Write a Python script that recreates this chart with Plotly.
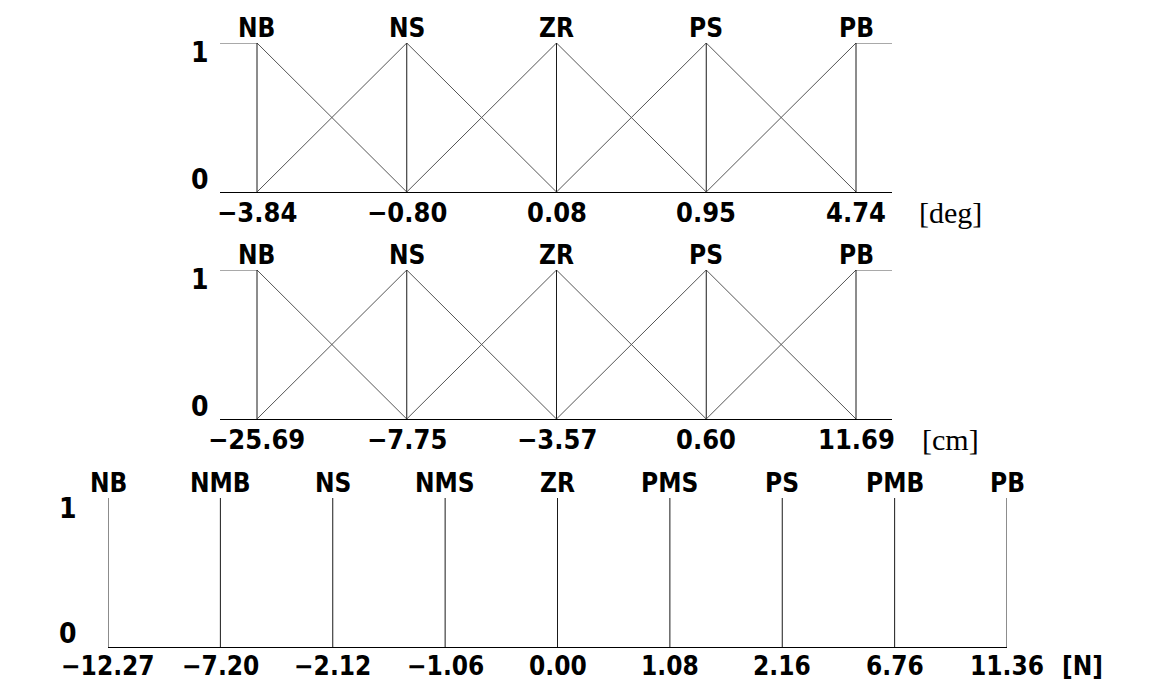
import plotly.graph_objects as go

# membership function labels
terms5 = ["NB", "NS", "ZR", "PS", "PB"]
terms9 = ["NB", "NMB", "NS", "NMS", "ZR", "PMS", "PS", "PMB", "PB"]

# breakpoints of each fuzzy set
angle_points = [-3.84, -0.80, 0.08, 0.95, 4.74]        # [deg]
position_points = [-25.69, -7.75, -3.57, 0.60, 11.69]  # [cm]
force_points = [-12.27, -7.20, -2.12, -1.06, 0.00, 1.08, 2.16, 6.76, 11.36]  # [N]

W, H = 1149, 683
OFF = 8  # page body margin
GOTHIC = "Liberation Sans Narrow, Arial Narrow, DejaVu Sans Condensed, sans-serif"
SERIF = "Liberation Serif, Times New Roman, serif"
DIAG = "#555555"
VERT = "#1a1a1a"


def fmt(v):
    return f"{v:.2f}".replace("-", "\u2212")


def px_x(p):
    return (p - OFF) / W


def px_y(p):
    return 1 - (p - OFF) / H


def bold(size):
    return dict(family=GOTHIC, size=size, color="black", weight="bold")


fig = go.Figure()

# panel geometry in pixels: (top, baseline)
panels = [
    dict(points=angle_points, unit="[deg]", top=43, base=192),
    dict(points=position_points, unit="[cm]", top=270, base=419),
]
tri_left, tri_right = 220, 892
tri_first, tri_last = 257, 856
step = (tri_last - tri_first) / 4
x_lo = -(tri_first - tri_left) / step
x_hi = 4 + (tri_right - tri_last) / step

for k, p in enumerate(panels, start=1):
    xa, ya = f"x{k}", f"y{k}"
    n = len(p["points"])
    for i in range(n):
        if i == 0:
            xs, ys = [x_lo, 0, 1], [1, 1, 0]
        elif i == n - 1:
            xs, ys = [n - 2, n - 1, x_hi], [0, 1, 1]
        else:
            xs, ys = [i - 1, i, i + 1], [0, 1, 0]
        fig.add_trace(go.Scatter(x=xs, y=ys, mode="lines", xaxis=xa, yaxis=ya,
                                 line=dict(color=DIAG, width=1), cliponaxis=False,
                                 showlegend=False, hoverinfo="skip"))
        fig.add_trace(go.Scatter(x=[i, i], y=[0, 1], mode="lines", xaxis=xa, yaxis=ya,
                                 line=dict(color=VERT, width=1), cliponaxis=False,
                                 showlegend=False, hoverinfo="skip"))
    sfx = "" if k == 1 else str(k)
    fig.layout["xaxis" + sfx] = dict(
        domain=[px_x(tri_left), px_x(tri_right)], range=[x_lo, x_hi],
        anchor=ya, showgrid=False, zeroline=False, showline=True, automargin=False,
        linecolor="black", linewidth=1, ticks="", showticklabels=False,
    )
    fig.layout["yaxis" + sfx] = dict(
        domain=[px_y(p["base"]), px_y(p["top"])], range=[0, 1], automargin=False,
        anchor=xa, showgrid=False, zeroline=False, showline=False,
        showticklabels=False, ticks="",
    )
    for i, t in enumerate(terms5):
        fig.add_annotation(x=i, y=1, xref=xa, yref=ya, text=t, showarrow=False,
                           xanchor="center", yshift=15, font=bold(26))
    for i, v in enumerate(p["points"]):
        fig.add_annotation(x=i, y=0, xref=xa, yref=ya, text=fmt(v), showarrow=False,
                           xanchor="center", yshift=-21, font=bold(27))
    for val, shift in [(1, -10), (0, 12)]:
        fig.add_annotation(x=px_x(200), y=val, xref="paper", yref=ya, text=str(val),
                           showarrow=False, xanchor="center", yshift=shift, font=bold(28))
    fig.add_annotation(x=px_x(950), y=0, xref="paper", yref=ya, text=p["unit"],
                       showarrow=False, xanchor="center", yshift=-21,
                       font=dict(family=SERIF, size=30, color="black"))

# singleton output sets
n9 = len(force_points)
for i in range(n9):
    fig.add_trace(go.Scatter(x=[i, i], y=[0, 1], mode="lines", xaxis="x3", yaxis="y3",
                             line=dict(color=VERT, width=1), cliponaxis=False,
                             showlegend=False, hoverinfo="skip"))
fig.layout["xaxis3"] = dict(
    domain=[px_x(108), px_x(1007)], range=[0, n9 - 1],
    anchor="y3", showgrid=False, zeroline=False, showline=True, automargin=False,
    linecolor="black", linewidth=1, ticks="", showticklabels=False,
)
fig.layout["yaxis3"] = dict(
    domain=[px_y(647), px_y(498)], range=[0, 1], anchor="x3", automargin=False,
    showgrid=False, zeroline=False, showline=False, showticklabels=False, ticks="",
)
for i, t in enumerate(terms9):
    fig.add_annotation(x=i, y=1, xref="x3", yref="y3", text=t, showarrow=False,
                       xanchor="center", yshift=15, font=bold(26))
for i, v in enumerate(force_points):
    fig.add_annotation(x=i, y=0, xref="x3", yref="y3", text=fmt(v), showarrow=False,
                       xanchor="center", yshift=-19, font=bold(26))
for val, shift in [(1, -10), (0, 14)]:
    fig.add_annotation(x=px_x(68), y=val, xref="paper", yref="y3", text=str(val),
                       showarrow=False, xanchor="center", yshift=shift, font=bold(28))
fig.add_annotation(x=px_x(1082), y=0, xref="paper", yref="y3", text="[N]",
                   showarrow=False, xanchor="center", yshift=-19, font=bold(26))

fig.update_layout(
    width=W, height=H, margin=dict(l=0, r=0, t=0, b=0, autoexpand=False),
    paper_bgcolor="white", plot_bgcolor="white", showlegend=False,
)

fig.write_html("out.html")
